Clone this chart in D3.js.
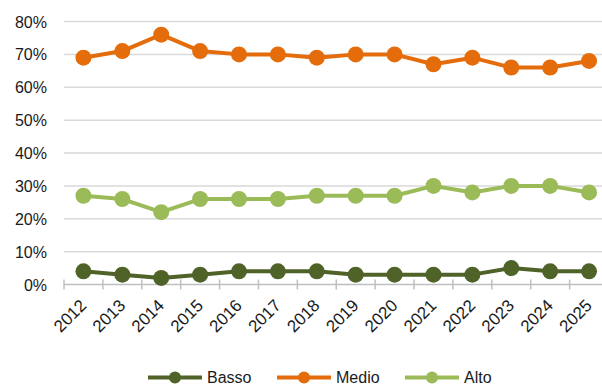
<!DOCTYPE html>
<html>
<head>
<meta charset="utf-8">
<script src="https://cdn.jsdelivr.net/npm/d3@7"></script>
<style>
  html, body { margin: 0; padding: 0; background: #fff; }
  svg { display: block; }
  text { font-family: "Liberation Sans", Arial, sans-serif; fill: #1a1a1a; }
</style>
</head>
<body>
<svg id="chart" width="602" height="385"></svg>
<script>
// Share of each level per year (%)
const years = ["2012","2013","2014","2015","2016","2017","2018","2019","2020","2021","2022","2023","2024","2025"];
const basso = [4, 3, 2, 3, 4, 4, 4, 3, 3, 3, 3, 5, 4, 4];
const medio = [69, 71, 76, 71, 70, 70, 69, 70, 70, 67, 69, 66, 66, 68];
const alto  = [27, 26, 22, 26, 26, 26, 27, 27, 27, 30, 28, 30, 30, 28];
const yTicks = [0, 10, 20, 30, 40, 50, 60, 70, 80];

const series = [
  { name: "Basso", values: basso, color: "#4f6228" },
  { name: "Medio", values: medio, color: "#e46c0a" },
  { name: "Alto",  values: alto,  color: "#9bbb59" }
];

const svg = d3.select("#chart");
const plotLeft = 64, plotRight = 608.5, plotTop = 21.5, plotBottom = 284.5;

const x = d3.scaleBand().domain(years).range([plotLeft, plotRight]);
const y = d3.scaleLinear().domain([0, 80]).range([plotBottom, plotTop]);
const cx = d => x(d) + x.bandwidth() / 2;

// horizontal gridlines
svg.append("g")
  .selectAll("line")
  .data(yTicks.filter(t => t > 0))
  .join("line")
  .attr("x1", plotLeft).attr("x2", 602)
  .attr("y1", d => y(d)).attr("y2", d => y(d))
  .attr("stroke", "#d9d9d9").attr("stroke-width", 1.5);

// y tick labels
svg.append("g")
  .selectAll("text")
  .data(yTicks)
  .join("text")
  .attr("x", 47)
  .attr("y", d => y(d) + 6)
  .attr("text-anchor", "end")
  .attr("font-size", 16)
  .text(d => d + "%");

// category axis with crossing tick marks
const axis = svg.append("g");
axis.append("line")
  .attr("x1", plotLeft).attr("x2", 602)
  .attr("y1", plotBottom).attr("y2", plotBottom)
  .attr("stroke", "#bfbfbf").attr("stroke-width", 1.5);
const boundaries = years.map(d => x(d)).concat([plotRight]);
axis.selectAll("line.tick")
  .data(boundaries)
  .join("line")
  .attr("class", "tick")
  .attr("x1", d => d).attr("x2", d => d)
  .attr("y1", plotBottom - 5).attr("y2", plotBottom + 5)
  .attr("stroke", "#bfbfbf").attr("stroke-width", 1.5);

axis.selectAll("text")
  .data(years)
  .join("text")
  .attr("transform", d => `translate(${cx(d) + 4},${plotBottom + 22}) rotate(-45)`)
  .attr("text-anchor", "end")
  .attr("font-size", 17)
  .text(d => d);

// series lines and markers
const line = d3.line().x((v, i) => cx(years[i])).y(v => y(v));
series.forEach(s => {
  const g = svg.append("g");
  g.append("path")
    .attr("d", line(s.values))
    .attr("fill", "none")
    .attr("stroke", s.color)
    .attr("stroke-width", 4)
    .attr("stroke-linejoin", "round");
  g.selectAll("circle")
    .data(s.values)
    .join("circle")
    .attr("cx", (v, i) => cx(years[i]))
    .attr("cy", v => y(v))
    .attr("r", 8)
    .attr("fill", s.color);
});

// legend
const legendX = [148, 277, 405];
const legendY = 377.5;
series.forEach((s, i) => {
  const g = svg.append("g").attr("transform", `translate(${legendX[i]},${legendY})`);
  g.append("line")
    .attr("x1", 0).attr("x2", 54)
    .attr("y1", 0).attr("y2", 0)
    .attr("stroke", s.color).attr("stroke-width", 4);
  g.append("circle").attr("cx", 27).attr("cy", 0).attr("r", 6).attr("fill", s.color);
  g.append("text")
    .attr("x", 59).attr("y", 5.5)
    .attr("font-size", 16)
    .text(s.name);
});
</script>
</body>
</html>
